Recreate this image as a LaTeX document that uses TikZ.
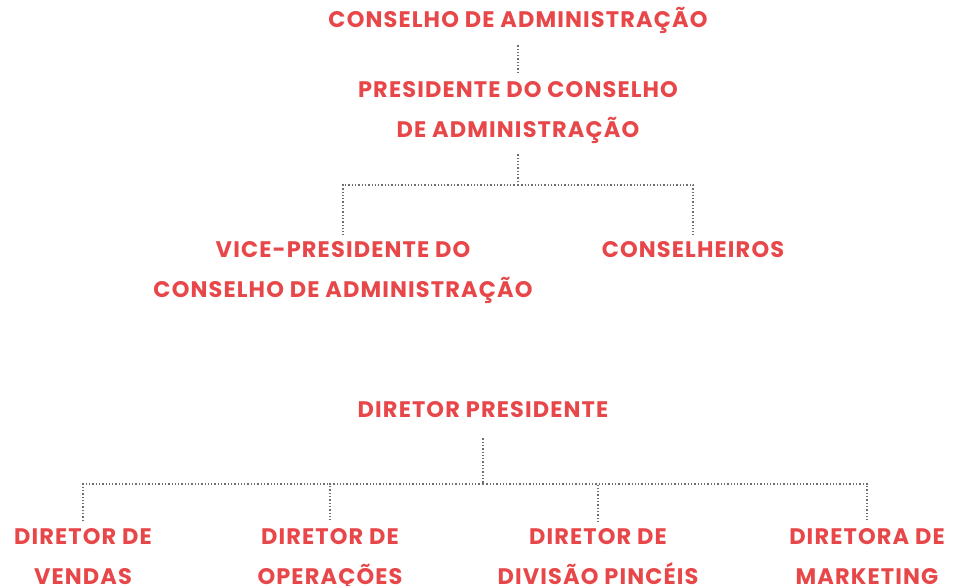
\documentclass[tikz,border=0pt]{standalone}
\usepackage{fontspec}
\setmainfont{Poppins}[BoldFont={* Bold}, LetterSpace=5]
\definecolor{orgred}{HTML}{E8474A}
\definecolor{orggray}{HTML}{6E6E6E}
\tikzset{
  cargo/.style={font=\fontsize{22.5}{40}\selectfont\bfseries, text=orgred, align=center, inner sep=6pt, anchor=base},
  conn/.style={draw=orggray, dotted, line width=1.3pt}
}
\begin{document}
\begin{tikzpicture}[x=1pt,y=-1pt]
\useasboundingbox (0,0) rectangle (961,586);
% base anchor = baseline of the last line
\node[cargo] (cons) at (518,28){CONSELHO DE ADMINISTRAÇÃO};
\node[cargo] (pres) at (518,137){PRESIDENTE DO CONSELHO\\DE ADMINISTRAÇÃO};
\node[cargo] (vice) at (343,297){VICE-PRESIDENTE DO\\CONSELHO DE ADMINISTRAÇÃO};
\node[cargo] (consh) at (693,257){CONSELHEIROS};

\node[cargo] (dirp) at (483,417){DIRETOR PRESIDENTE};
\node[cargo] (vend) at (83,584){DIRETOR DE\\VENDAS};
\node[cargo] (oper) at (330,584){DIRETOR DE\\OPERAÇÕES};
\node[cargo] (pinc) at (598,584){DIRETOR DE\\DIVISÃO PINCÉIS};
\node[cargo] (mark) at (867,584){DIRETORA DE\\MARKETING};

\coordinate (j1) at (518,185);
\coordinate (j2) at (483,484);

\draw[conn,shorten <=5pt] (cons.south) -- (pres.north);
\draw[conn,shorten <=5pt] (pres.south) -- (j1);
\draw[conn] (j1) -| (vice.north);
\draw[conn] (j1) -| (consh.north);
%%%%%%%%
\draw[conn,shorten <=15pt] (dirp.south) -- (j2);
\draw[conn] (j2) -| (vend.north);
\draw[conn] (j2) -| (oper.north);
\draw[conn] (j2) -| (pinc.north);
\draw[conn] (j2) -| (mark.north);
\end{tikzpicture}
\end{document}
